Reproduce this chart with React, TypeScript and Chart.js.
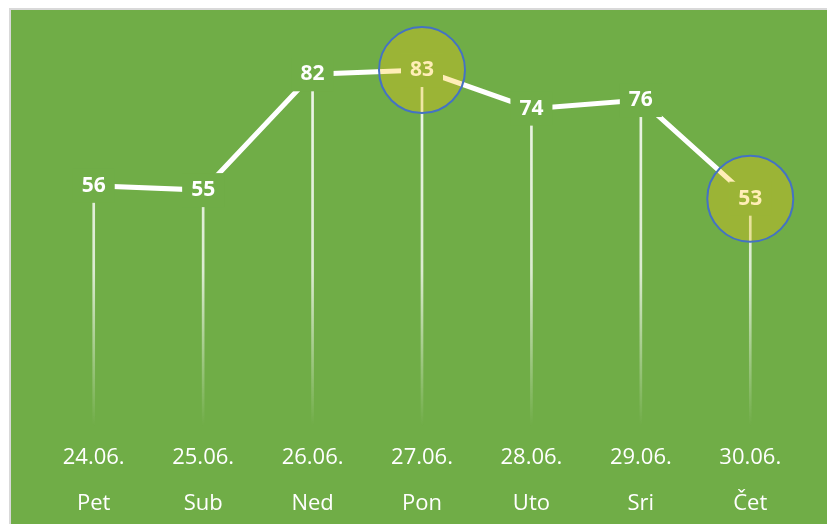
import React, { useEffect, useRef } from "react";
import { Chart, registerables } from "chart.js";

Chart.register(...registerables);

const dates = ["24.06.", "25.06.", "26.06.", "27.06.", "28.06.", "29.06.", "30.06."];
const days = ["Pet", "Sub", "Ned", "Pon", "Uto", "Sri", "Čet"];
const values = [56, 55, 82, 83, 74, 76, 53];
const highlighted = [false, false, false, true, false, false, true];
const yMin = 0;
const yMax = 90;

const BG = "#70AD47";
const FONT = "'Open Sans', 'Noto Sans', sans-serif";

const overlayPlugin = {
  id: "overlayPlugin",
  afterDatasetsDraw(chart: any) {
    const meta = chart.getDatasetMeta(0);
    const ctx = chart.ctx;
    ctx.save();
    meta.data.forEach((pt: any, i: number) => {
      const x = pt.x;
      const y = pt.y;
      ctx.fillStyle = BG;
      ctx.fillRect(x - 21, y - 17, 42, 34);
      ctx.fillStyle = "#ffffff";
      ctx.font = `bold 21px ${FONT}`;
      ctx.textAlign = "center";
      ctx.textBaseline = "middle";
      ctx.fillText(String(values[i]), x, y);
    });
    ctx.restore();
  },
  afterDraw(chart: any) {
    const meta = chart.getDatasetMeta(0);
    const ctx = chart.ctx;
    ctx.save();
    meta.data.forEach((pt: any, i: number) => {
      if (!highlighted[i]) return;
      ctx.beginPath();
      ctx.arc(pt.x, pt.y, 43, 0, Math.PI * 2);
      ctx.fillStyle = "rgba(255, 200, 18, 0.3)";
      ctx.fill();
      ctx.lineWidth = 2;
      ctx.strokeStyle = "#4472C4";
      ctx.stroke();
    });
    ctx.restore();
  },
};

export default function App() {
  const canvasRef = useRef<HTMLCanvasElement | null>(null);

  useEffect(() => {
    if (!canvasRef.current) return;
    const labels = dates.map((d, i) => [d, days[i]]);
    const chart = new Chart(canvasRef.current, {
      type: "bar",
      data: {
        labels,
        datasets: [
          {
            type: "line",
            data: values,
            borderColor: "#ffffff",
            borderWidth: 5,
            pointRadius: 0,
            tension: 0,
            order: 0,
            borderCapStyle: "butt",
          } as any,
          {
            type: "bar",
            data: values,
            barThickness: 2,
            order: 1,
            backgroundColor: (context: any) => {
              const area = context.chart.chartArea;
              if (!area) return "rgba(255,255,255,0.8)";
              const g = context.chart.ctx.createLinearGradient(0, area.top, 0, area.bottom);
              g.addColorStop(0, "rgba(255,255,255,0.9)");
              g.addColorStop(0.6, "rgba(255,255,255,0.75)");
              g.addColorStop(1, "rgba(255,255,255,0)");
              return g;
            },
          } as any,
        ],
      },
      options: {
        animation: false,
        responsive: true,
        maintainAspectRatio: false,
        layout: {
          autoPadding: false,
          padding: { left: 28, right: 22, top: 30, bottom: -12 },
        },
        plugins: {
          legend: { display: false },
          tooltip: { enabled: false },
        },
        scales: {
          x: {
            offset: true,
            border: { display: false },
            grid: { display: false, drawTicks: false, tickLength: 0 },
            ticks: {
              color: "#ffffff",
              padding: 9,
              maxRotation: 0,
              autoSkip: false,
              font: { family: FONT, size: 22, lineHeight: "46px" },
            },
          },
          y: {
            display: false,
            min: yMin,
            max: yMax,
          },
        },
      } as any,
      plugins: [overlayPlugin],
    });
    return () => chart.destroy();
  }, []);

  return (
    <div
      style={{
        position: "fixed",
        left: 9,
        top: 8,
        right: 0,
        bottom: 0,
        borderTop: "2px solid #d9d9d9",
        borderLeft: "2px solid #d9d9d9",
        background: BG,
        boxSizing: "border-box",
      }}
    >
      <div style={{ position: "relative", width: "100%", height: "100%" }}>
        <canvas ref={canvasRef} />
      </div>
    </div>
  );
}
